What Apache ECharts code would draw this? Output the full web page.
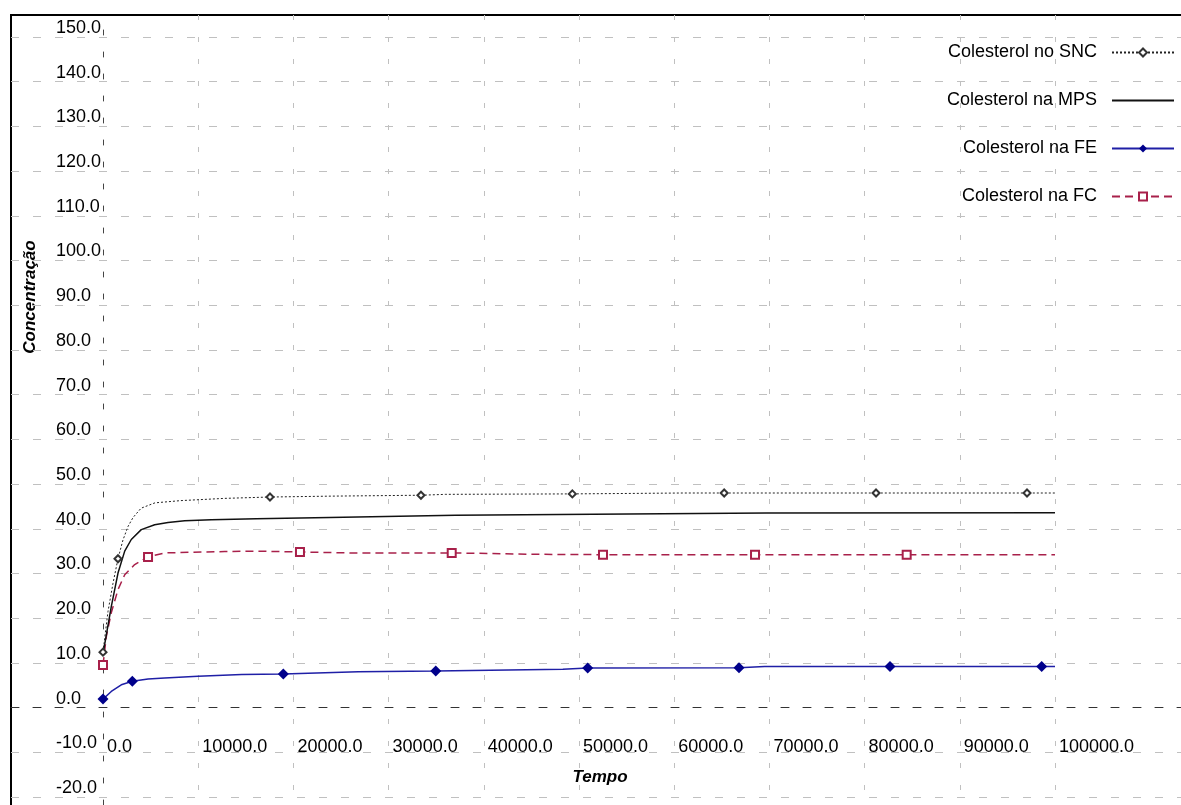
<!DOCTYPE html>
<html>
<head>
<meta charset="utf-8">
<title>Colesterol</title>
<script src="https://cdn.jsdelivr.net/npm/echarts@6/dist/echarts.min.js"></script>
<style>
  html, body { margin: 0; padding: 0; background: #ffffff; }
  #chart { width: 1181px; height: 805px; }
</style>
</head>
<body>
<div id="chart"></div>
<script>
// ---- data -------------------------------------------------------------
const seriesNames = ['Colesterol no SNC', 'Colesterol na MPS', 'Colesterol na FE', 'Colesterol na FC'];
const xTitle = 'Tempo';
const yTitle = 'Concentração';

// x axis: 0 .. 100000 by 10000, y axis: -20 .. 150 by 10
const xMin = 0, xMax = 100000, xStep = 10000;
const yMin = -20, yMax = 150, yStep = 10;

const sncTime  = [0, 525, 1050, 1575, 2100, 2625, 3150, 4000, 5460, 8190, 12800, 17540, 24000, 33400, 36000, 49300, 61000, 65250, 81200, 97060, 100000];
const sncValue = [12.4, 21.5, 27.8, 33.3, 37.5, 40.5, 42.5, 44.6, 45.8, 46.3, 46.8, 47.1, 47.3, 47.5, 47.7, 47.8, 48.0, 48.0, 48.0, 48.0, 48.0];
const sncMarks = [0, 1575, 17540, 33400, 49300, 65250, 81200, 97060];

const mpsTime  = [0, 870, 1575, 2280, 2970, 4020, 5430, 6830, 8580, 11380, 16100, 23800, 37000, 69700, 100000];
const mpsValue = [12.0, 22.6, 30.1, 35.0, 37.6, 39.8, 40.9, 41.4, 41.8, 42.0, 42.25, 42.5, 43.0, 43.5, 43.6];

const feTime  = [0, 870, 1920, 3080, 4730, 6480, 9980, 14570, 18940, 26820, 34950, 48300, 50910, 66810, 69500, 82670, 98600, 100000];
const feValue = [1.9, 3.6, 5.1, 5.9, 6.4, 6.6, 7.0, 7.4, 7.5, 8.0, 8.2, 8.6, 8.85, 8.9, 9.2, 9.2, 9.2, 9.2];
const feMarks = [0, 3080, 18940, 34950, 50910, 66810, 82670, 98600];

const fcTime  = [0, 350, 870, 1575, 2280, 3330, 4730, 6480, 12780, 16000, 20690, 26000, 36630, 45000, 52520, 68490, 84420, 100000];
const fcValue = [9.5, 15.9, 21.2, 26.4, 29.7, 32.0, 33.7, 34.6, 34.9, 35.0, 34.8, 34.6, 34.6, 34.3, 34.2, 34.2, 34.2, 34.2];
const fcMarks = [0, 4730, 20690, 36630, 52520, 68490, 84420];

// ---- helpers ----------------------------------------------------------
const FONT = '"Liberation Sans", Arial, Helvetica, sans-serif';
const GRID_GREY = '#c0c0c0';

function pairs(t, v) { return t.map((x, i) => [x, v[i]]); }
// symbols are only shown on the sampled marker times
function markSize(marks, size) {
  const s = new Set(marks);
  return (val) => (s.has(val[0]) ? size : 0);
}
const fmt1 = (v) => Number(v).toFixed(1);

const hiddenAxis = (grid) => ({
  gridIndex: grid, type: 'value', min: 0, max: 1, show: false
});

// ---- chart ------------------------------------------------------------
const chart = echarts.init(document.getElementById('chart'), null, { renderer: 'canvas' });

chart.setOption({
  animation: false,
  backgroundColor: '#ffffff',
  grid: [
    // 0: plotting area
    { left: 103, right: 126, top: 37, bottom: 8, outerBoundsMode: 'none', containLabel: false },
    // 1: horizontal rules running across the whole width
    { left: 11, right: 0, top: 37, bottom: 8, outerBoundsMode: 'none', containLabel: false },
    // 2: vertical rules running across the whole height
    { left: 103, right: 126, top: 15, bottom: 0, outerBoundsMode: 'none', containLabel: false },
    // 3: outer frame
    { left: 11, right: -10, top: 15, bottom: -10, show: true, borderColor: '#000', borderWidth: 2,
      backgroundColor: 'transparent', outerBoundsMode: 'none', containLabel: false }
  ],
  xAxis: [
    {
      gridIndex: 0, type: 'value', min: xMin, max: xMax, interval: xStep,
      // labels hang from the y = 0 rule (offset lifts the axis from -20 up to 0)
      offset: -89,
      axisLine: { show: false, onZero: false },
      axisTick: { show: false },
      splitLine: { show: false },
      axisLabel: {
        show: true, align: 'left', verticalAlign: 'bottom', margin: 48,
        padding: [0, 0, 0, 4], formatter: fmt1, showMinLabel: true, showMaxLabel: true,
        fontSize: 18, color: '#000', fontFamily: FONT
      }
    },
    {
      gridIndex: 1, type: 'value', min: 0, max: 1,
      axisLine: { show: true, onZero: true, lineStyle: { color: '#333', width: 1, type: [8, 14] } },
      axisTick: { show: false }, axisLabel: { show: false }, splitLine: { show: false }
    },
    {
      gridIndex: 2, type: 'value', min: xMin, max: xMax, interval: xStep,
      axisLine: { show: false }, axisTick: { show: false }, axisLabel: { show: false },
      splitLine: { show: true, showMinLine: false, lineStyle: { color: GRID_GREY, width: 1, type: [5, 17] } }
    },
    hiddenAxis(3)
  ],
  yAxis: [
    {
      gridIndex: 0, type: 'value', min: yMin, max: yMax, interval: yStep,
      axisLine: { show: false }, axisTick: { show: false }, splitLine: { show: false },
      axisLabel: {
        show: true, align: 'left', verticalAlign: 'bottom', margin: 47,
        formatter: fmt1, showMinLabel: true, showMaxLabel: true,
        fontSize: 18, color: '#000', fontFamily: FONT
      }
    },
    {
      gridIndex: 1, type: 'value', min: yMin, max: yMax, interval: yStep,
      axisLine: { show: false }, axisTick: { show: false }, axisLabel: { show: false },
      splitLine: { show: true, lineStyle: { color: GRID_GREY, width: 1, type: [8, 14] } }
    },
    {
      gridIndex: 2, type: 'value', min: 0, max: 1,
      axisLine: { show: true, onZero: false, lineStyle: { color: '#444', width: 1, type: [5, 17] } },
      axisTick: { show: false }, axisLabel: { show: false }, splitLine: { show: false }
    },
    hiddenAxis(3)
  ],
  legend: {
    orient: 'vertical', right: 1, top: 33, align: 'right',
    itemWidth: 62, itemHeight: 10, itemGap: 19,
    selectedMode: false,
    textStyle: { fontSize: 18, color: '#000', fontFamily: FONT, lineHeight: 20, padding: [9, 10, 0, 0] },
    data: [
      { name: seriesNames[0] },
      { name: seriesNames[1], itemStyle: { opacity: 0 } },
      { name: seriesNames[2] },
      { name: seriesNames[3] }
    ]
  },
  graphic: [
    {
      type: 'text', x: 30, y: 297, rotation: Math.PI / 2, silent: true,
      style: { text: yTitle, fill: '#000', align: 'center', verticalAlign: 'middle',
               font: 'italic bold 17px "Liberation Sans", Arial, sans-serif' }
    },
    {
      type: 'text', x: 600, y: 777, silent: true,
      style: { text: xTitle, fill: '#000', align: 'center', verticalAlign: 'middle',
               font: 'italic bold 17px "Liberation Sans", Arial, sans-serif' }
    }
  ],
  series: [
    {
      name: seriesNames[3], type: 'line', xAxisIndex: 0, yAxisIndex: 0,
      data: pairs(fcTime, fcValue),
      symbol: 'emptyRect', symbolSize: markSize(fcMarks, 8), showAllSymbol: true,
      lineStyle: { color: '#a8204a', width: 1.5, type: [8, 5] },
      itemStyle: { color: '#a8204a', borderWidth: 1.5 },
      emphasis: { disabled: true }, z: 3
    },
    {
      name: seriesNames[2], type: 'line', xAxisIndex: 0, yAxisIndex: 0,
      data: pairs(feTime, feValue),
      symbol: 'diamond', symbolSize: markSize(feMarks, 11), showAllSymbol: true,
      lineStyle: { color: '#1f1fa6', width: 1.5, type: 'solid' },
      itemStyle: { color: '#00008b' },
      emphasis: { disabled: true }, z: 3
    },
    {
      name: seriesNames[1], type: 'line', xAxisIndex: 0, yAxisIndex: 0,
      data: pairs(mpsTime, mpsValue),
      symbol: 'circle', symbolSize: 0, showSymbol: false,
      lineStyle: { color: '#111', width: 1.5, type: 'solid' },
      itemStyle: { color: '#111' },
      emphasis: { disabled: true }, z: 4
    },
    {
      name: seriesNames[0], type: 'line', xAxisIndex: 0, yAxisIndex: 0,
      data: pairs(sncTime, sncValue),
      symbol: 'emptyDiamond', symbolSize: markSize(sncMarks, 7), showAllSymbol: true,
      lineStyle: { color: '#222', width: 1, type: [2, 2] },
      itemStyle: { color: '#333', borderWidth: 1 },
      emphasis: { disabled: true }, z: 5
    }
  ]
});
</script>
</body>
</html>
